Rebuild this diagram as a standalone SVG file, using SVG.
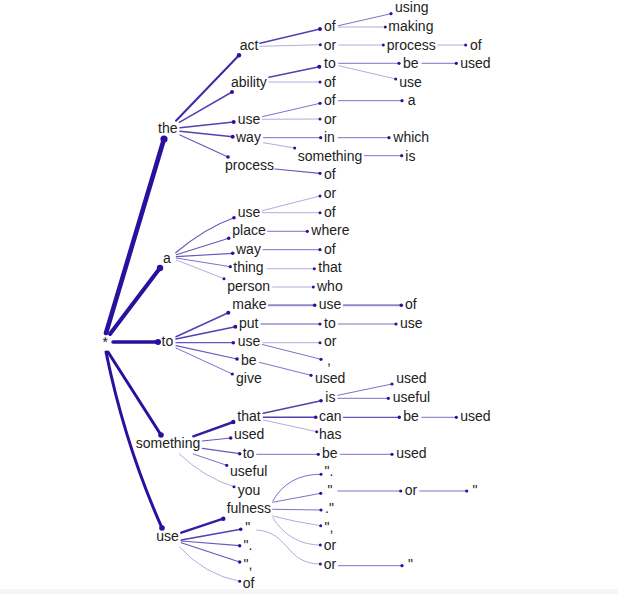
<svg xmlns="http://www.w3.org/2000/svg" width="618" height="594" viewBox="0 0 618 594">
<style>
text{font-family:"Liberation Sans",Arial,sans-serif;font-size:14px;fill:#222}
circle{fill:#2b0f9e}
path{fill:none;stroke:#2b0f9e;stroke-linecap:round}
.w5{stroke-width:4.6}
.w4{stroke-width:4}
.w35{stroke-width:3.5}
.w3{stroke-width:3}
.w25{stroke-width:2.4;stroke-opacity:.95}
.w2{stroke-width:2;stroke-opacity:.9}
.w15{stroke-width:1.5;stroke-opacity:.8}
.w12{stroke-width:1.2;stroke-opacity:.7}
.w1{stroke-width:1;stroke-opacity:.6}
.wl{stroke-width:1;stroke-opacity:.35}
.wm{stroke-width:2;stroke-opacity:.5}
</style>
<rect x="0" y="589" width="618" height="5" fill="#f6f6f6"/>
<g id="connectors">
<path class="w5" d="M106,333 L164,139"/>
<path class="w4" d="M110,334 L160,268"/>
<path class="w35" d="M113,342 L158,342"/>
<path class="w3" d="M108,352 L161,435"/>
<path class="w3" d="M106,352 Q125,445 162,528"/>
<path class="w2" d="M176,120.7 L239,55.3"/>
<path class="w15" d="M179.3,122.3 L232,92"/>
<path class="w15" d="M180,127.7 L233.7,122"/>
<path class="w15" d="M180,131.3 L232.7,136.7"/>
<path class="w12" d="M180,135 L228,157"/>
<path class="w15" d="M260,43.3 L320,29"/>
<path class="wl" d="M260,46.3 L320.3,44.7"/>
<path class="w1" d="M338.3,25.7 L391,13.7"/>
<path class="wl" d="M338.3,27 L385.3,27"/>
<path class="wl" d="M338.7,45 L383.3,45"/>
<path class="wl" d="M437.7,45 L465.7,45"/>
<path class="w15" d="M269,77.3 L319.3,66.7"/>
<path class="wl" d="M269,82 L320,82"/>
<path class="w1" d="M338.7,63.3 L399,63.3"/>
<path class="w1" d="M422,63.3 L456.3,63.3"/>
<path class="wl" d="M338.7,65.7 L395.7,79"/>
<path class="w1" d="M262.3,116.7 L320,103.3"/>
<path class="wl" d="M262.3,119.3 L320,119"/>
<path class="w1" d="M338.3,100.7 L402,100.7"/>
<path class="w1" d="M263.5,137.7 L320.7,137.7"/>
<path class="wl" d="M263.3,142.7 L294.7,148"/>
<path class="w1" d="M338,137.7 L389,137.7"/>
<path class="w1" d="M364.3,155.7 L401.7,155.7"/>
<path class="w12" d="M275,169 L320,173.3"/>
<path class="w12" d="M175.7,252.7 Q205,228 234,217.7"/>
<path class="w12" d="M176.3,254.7 L228.7,238.3"/>
<path class="w12" d="M176.3,256.7 L232.7,253.3"/>
<path class="w1" d="M176.3,258 L230.3,266.7"/>
<path class="wl" d="M176.3,260 L224,278.7"/>
<path class="wl" d="M262.3,210.7 L320,196"/>
<path class="wl" d="M262.3,212.7 L320,212.7"/>
<path class="w1" d="M267.7,231.3 L307.3,231.3"/>
<path class="w1" d="M263,249.7 L320,249.7"/>
<path class="wl" d="M267,268.7 L314.3,268.7"/>
<path class="wl" d="M272.7,287 L313.3,287"/>
<path class="w15" d="M176,336.7 L228.3,312.7"/>
<path class="w15" d="M176,339 L235.3,326.7"/>
<path class="w12" d="M176,342.7 L233.3,342.7"/>
<path class="w12" d="M176,345.7 L237,359"/>
<path class="w1" d="M176,348 L232.3,374"/>
<path class="wm" d="M268.7,305.3 L314.7,305.3"/>
<path class="wm" d="M343.7,305.3 L401.3,305.3"/>
<path class="w12" d="M261,324 L320,324"/>
<path class="w1" d="M338.3,324 L396,324"/>
<path class="wl" d="M263,342.7 L320,342.7"/>
<path class="w1" d="M262.3,344.5 L321,359.3"/>
<path class="w1" d="M259.3,362.3 L311,375.3"/>
<path class="w25" d="M193.3,436.3 L233.3,422"/>
<path class="w12" d="M202.3,441 L230.7,438"/>
<path class="w12" d="M202.3,448.3 L239.7,453.7"/>
<path class="w1" d="M193.3,454 L226.7,465.3"/>
<path class="wl" d="M179.3,454 Q205,478 234,486.7"/>
<path class="w15" d="M263.3,413.3 L321,400.7"/>
<path class="w15" d="M263.3,417.3 L315.7,417.3"/>
<path class="wl" d="M263.3,420 L316.7,431.7"/>
<path class="w1" d="M337.7,395.3 L392,384"/>
<path class="w1" d="M337.7,398.3 L388.3,398.3"/>
<path class="w12" d="M343.3,417.3 L399.3,417.3"/>
<path class="w1" d="M421.7,417.3 L456.3,417.3"/>
<path class="w1" d="M256.7,454.3 L318.3,454.3"/>
<path class="w1" d="M340.3,454.3 L392,454.3"/>
<path class="w25" d="M181.3,532.7 L223.3,518.7"/>
<path class="w15" d="M181.3,540 L240.7,529.3"/>
<path class="w12" d="M181.3,541 L239.7,545.7"/>
<path class="w12" d="M181.3,542.7 L239.7,562"/>
<path class="wl" d="M179.3,546.7 Q205,575 239.7,581.3"/>
<path class="w1" d="M272.7,501 Q288,474 321,474.3"/>
<path class="w1" d="M272.7,502.3 L320.7,493.3"/>
<path class="w1" d="M272.7,509.3 L321,510"/>
<path class="wl" d="M272.7,516 Q295,522 320.7,525.7"/>
<path class="wl" d="M272.7,517.7 Q290,545 320.3,545"/>
<path class="wl" d="M256.7,530 C290,532 285,564 320.3,564"/>
<path class="w1" d="M338.3,565.7 L402,565.7"/>
<path class="w1" d="M337.7,491 L400.7,491"/>
<path class="w1" d="M419.7,491 L466.7,491"/>
</g>
<g id="n-root"><text x="102.5" y="347">*</text></g>
<g id="n-the"><circle cx="164" cy="139" r="3.6"/><text x="158" y="133">the</text></g>
<g id="n-the-act"><circle cx="239" cy="55.3" r="2.2"/><text x="239.7" y="49.5">act</text></g>
<g id="n-the-act-of"><circle cx="320" cy="29" r="2"/><text x="324" y="31">of</text></g>
<g id="n-the-act-of-using"><circle cx="391" cy="13.7" r="1.6"/><text x="395" y="12.4">using</text></g>
<g id="n-the-act-of-making"><circle cx="385.3" cy="27" r="1.5"/><text x="388.3" y="31">making</text></g>
<g id="n-the-act-or"><circle cx="320.3" cy="44.7" r="1.5"/><text x="323.7" y="49.5">or</text></g>
<g id="n-the-act-or-process"><circle cx="383.3" cy="45" r="1.5"/><text x="386.7" y="49.5">process</text></g>
<g id="n-the-act-or-process-of"><circle cx="465.7" cy="45" r="1.5"/><text x="470" y="49.5">of</text></g>
<g id="n-the-ability"><circle cx="232" cy="92" r="2"/><text x="231" y="86.6">ability</text></g>
<g id="n-the-ability-to"><circle cx="319.3" cy="66.7" r="2"/><text x="324" y="68">to</text></g>
<g id="n-the-ability-to-be"><circle cx="399" cy="63.3" r="1.6"/><text x="403" y="68">be</text></g>
<g id="n-the-ability-to-be-used"><circle cx="456.3" cy="63.3" r="1.6"/><text x="460.3" y="68">used</text></g>
<g id="n-the-ability-to-use"><circle cx="395.7" cy="79" r="1.5"/><text x="399.3" y="86.6">use</text></g>
<g id="n-the-ability-of"><circle cx="320" cy="82" r="1.5"/><text x="324" y="86.6">of</text></g>
<g id="n-the-use"><circle cx="233.7" cy="122" r="2"/><text x="237.7" y="123.7">use</text></g>
<g id="n-the-use-of"><circle cx="320" cy="103.3" r="1.6"/><text x="324" y="105.2">of</text></g>
<g id="n-the-use-of-a"><circle cx="402" cy="100.7" r="1.6"/><text x="407.7" y="105.2">a</text></g>
<g id="n-the-use-or"><circle cx="320" cy="119" r="1.5"/><text x="324" y="123.7">or</text></g>
<g id="n-the-way"><circle cx="232.7" cy="136.7" r="2"/><text x="236" y="142.3">way</text></g>
<g id="n-the-way-in"><circle cx="320.7" cy="137.7" r="1.6"/><text x="324" y="142.3">in</text></g>
<g id="n-the-way-in-which"><circle cx="389" cy="137.7" r="1.6"/><text x="393.3" y="142.3">which</text></g>
<g id="n-the-way-something"><circle cx="294.7" cy="148" r="1.5"/><text x="297.7" y="160.8">something</text></g>
<g id="n-the-way-something-is"><circle cx="401.7" cy="155.7" r="1.6"/><text x="405.3" y="160.8">is</text></g>
<g id="n-the-process"><circle cx="228" cy="157" r="1.8"/><text x="225" y="170.1">process</text></g>
<g id="n-the-process-of"><circle cx="320" cy="173.3" r="1.6"/><text x="324" y="179.4">of</text></g>
<g id="n-a"><circle cx="160" cy="268" r="3.2"/><text x="163" y="262.8">a</text></g>
<g id="n-a-use"><circle cx="234" cy="217.7" r="1.8"/><text x="237.7" y="216.5">use</text></g>
<g id="n-a-use-or"><circle cx="320" cy="196" r="1.5"/><text x="323.7" y="197.9">or</text></g>
<g id="n-a-use-of"><circle cx="320" cy="212.7" r="1.5"/><text x="324" y="216.5">of</text></g>
<g id="n-a-place"><circle cx="228.7" cy="238.3" r="1.8"/><text x="232.3" y="235">place</text></g>
<g id="n-a-place-where"><circle cx="307.3" cy="231.3" r="1.6"/><text x="311.3" y="235">where</text></g>
<g id="n-a-way"><circle cx="232.7" cy="253.3" r="1.8"/><text x="236" y="253.6">way</text></g>
<g id="n-a-way-of"><circle cx="320" cy="249.7" r="1.6"/><text x="324" y="253.6">of</text></g>
<g id="n-a-thing"><circle cx="230.3" cy="266.7" r="1.6"/><text x="233.3" y="272.1">thing</text></g>
<g id="n-a-thing-that"><circle cx="314.3" cy="268.7" r="1.5"/><text x="318.3" y="272.1">that</text></g>
<g id="n-a-person"><circle cx="224" cy="278.7" r="1.5"/><text x="227.3" y="290.7">person</text></g>
<g id="n-a-person-who"><circle cx="313.3" cy="287" r="1.5"/><text x="317" y="290.7">who</text></g>
<g id="n-to"><circle cx="158" cy="342" r="3"/><text x="161.5" y="346.3">to</text></g>
<g id="n-to-make"><circle cx="228.3" cy="312.7" r="2"/><text x="232.3" y="309.2">make</text></g>
<g id="n-to-make-use"><circle cx="314.7" cy="305.3" r="1.8"/><text x="318.7" y="309.2">use</text></g>
<g id="n-to-make-use-of"><circle cx="401.3" cy="305.3" r="1.8"/><text x="405" y="309.2">of</text></g>
<g id="n-to-put"><circle cx="235.3" cy="326.7" r="2"/><text x="239" y="327.8">put</text></g>
<g id="n-to-put-to"><circle cx="320" cy="324" r="1.6"/><text x="324" y="327.8">to</text></g>
<g id="n-to-put-to-use"><circle cx="396" cy="324" r="1.6"/><text x="400" y="327.8">use</text></g>
<g id="n-to-use"><circle cx="233.3" cy="342.7" r="1.8"/><text x="237.7" y="346.3">use</text></g>
<g id="n-to-use-or"><circle cx="320" cy="342.7" r="1.5"/><text x="324" y="346.3">or</text></g>
<g id="n-to-use-comma"><circle cx="321" cy="359.3" r="1.6"/><text x="327" y="364.9">,</text></g>
<g id="n-to-be"><circle cx="237" cy="359" r="1.8"/><text x="241" y="364.9">be</text></g>
<g id="n-to-be-used"><circle cx="311" cy="375.3" r="1.6"/><text x="315" y="383.4">used</text></g>
<g id="n-to-give"><circle cx="232.3" cy="374" r="1.6"/><text x="236" y="383.4">give</text></g>
<g id="n-something"><circle cx="161" cy="435" r="2.8"/><text x="135.7" y="448.3">something</text></g>
<g id="n-something-that"><circle cx="233.3" cy="422" r="2.2"/><text x="237.3" y="420.5">that</text></g>
<g id="n-something-that-is"><circle cx="321" cy="400.7" r="1.8"/><text x="325.3" y="402">is</text></g>
<g id="n-something-that-is-used"><circle cx="392" cy="384" r="1.6"/><text x="396.3" y="383.4">used</text></g>
<g id="n-something-that-is-useful"><circle cx="388.3" cy="398.3" r="1.6"/><text x="392.7" y="402">useful</text></g>
<g id="n-something-that-can"><circle cx="315.7" cy="417.3" r="1.8"/><text x="319" y="420.5">can</text></g>
<g id="n-something-that-can-be"><circle cx="399.3" cy="417.3" r="1.7"/><text x="403.3" y="420.5">be</text></g>
<g id="n-something-that-can-be-used"><circle cx="456.3" cy="417.3" r="1.6"/><text x="460.3" y="420.5">used</text></g>
<g id="n-something-that-has"><circle cx="316.7" cy="431.7" r="1.5"/><text x="319" y="439.1">has</text></g>
<g id="n-something-used"><circle cx="230.7" cy="438" r="1.8"/><text x="234" y="439.1">used</text></g>
<g id="n-something-to"><circle cx="239.7" cy="453.7" r="1.8"/><text x="242.7" y="457.6">to</text></g>
<g id="n-something-to-be"><circle cx="318.3" cy="454.3" r="1.6"/><text x="322" y="457.6">be</text></g>
<g id="n-something-to-be-used"><circle cx="392" cy="454.3" r="1.6"/><text x="396.3" y="457.6">used</text></g>
<g id="n-something-useful"><circle cx="226.7" cy="465.3" r="1.6"/><text x="230" y="476.2">useful</text></g>
<g id="n-something-you"><circle cx="234" cy="486.7" r="1.5"/><text x="237.7" y="494.7">you</text></g>
<g id="n-use"><circle cx="162" cy="528" r="2.8"/><text x="156.3" y="541.1">use</text></g>
<g id="n-use-fulness"><circle cx="223.3" cy="518.7" r="2.2"/><text x="226.7" y="513.3">fulness</text></g>
<g id="n-use-fulness-q1"><circle cx="321" cy="474.3" r="1.5"/><text x="324.6" y="476.2">".</text></g>
<g id="n-use-fulness-q2"><circle cx="320.7" cy="493.3" r="1.6"/><text x="327.5" y="494.7">"</text></g>
<g id="n-use-fulness-q2-or"><circle cx="400.7" cy="491" r="1.6"/><text x="404.7" y="494.7">or</text></g>
<g id="n-use-fulness-q2-or-q"><circle cx="466.7" cy="491" r="1.6"/><text x="472.6" y="494.7">"</text></g>
<g id="n-use-fulness-q3"><circle cx="321" cy="510" r="1.6"/><text x="325" y="513.3">."</text></g>
<g id="n-use-fulness-q4"><circle cx="320.7" cy="525.7" r="1.5"/><text x="324.6" y="531.8">",</text></g>
<g id="n-use-fulness-or"><circle cx="320.3" cy="545" r="1.5"/><text x="323.7" y="550.4">or</text></g>
<g id="n-use-q"><circle cx="240.7" cy="529.3" r="1.8"/><text x="245.3" y="531.8">"</text></g>
<g id="n-use-q-or"><circle cx="320.3" cy="564" r="1.5"/><text x="323.7" y="568.9">or</text></g>
<g id="n-use-q-or-q"><circle cx="402" cy="565.7" r="1.6"/><text x="408" y="568.9">"</text></g>
<g id="n-use-qdot"><circle cx="239.7" cy="545.7" r="1.7"/><text x="243.6" y="550.4">".</text></g>
<g id="n-use-qcomma"><circle cx="239.7" cy="562" r="1.7"/><text x="243.6" y="568.9">",</text></g>
<g id="n-use-of"><circle cx="239.7" cy="581.3" r="1.5"/><text x="242.7" y="587.5">of</text></g>
</svg>
